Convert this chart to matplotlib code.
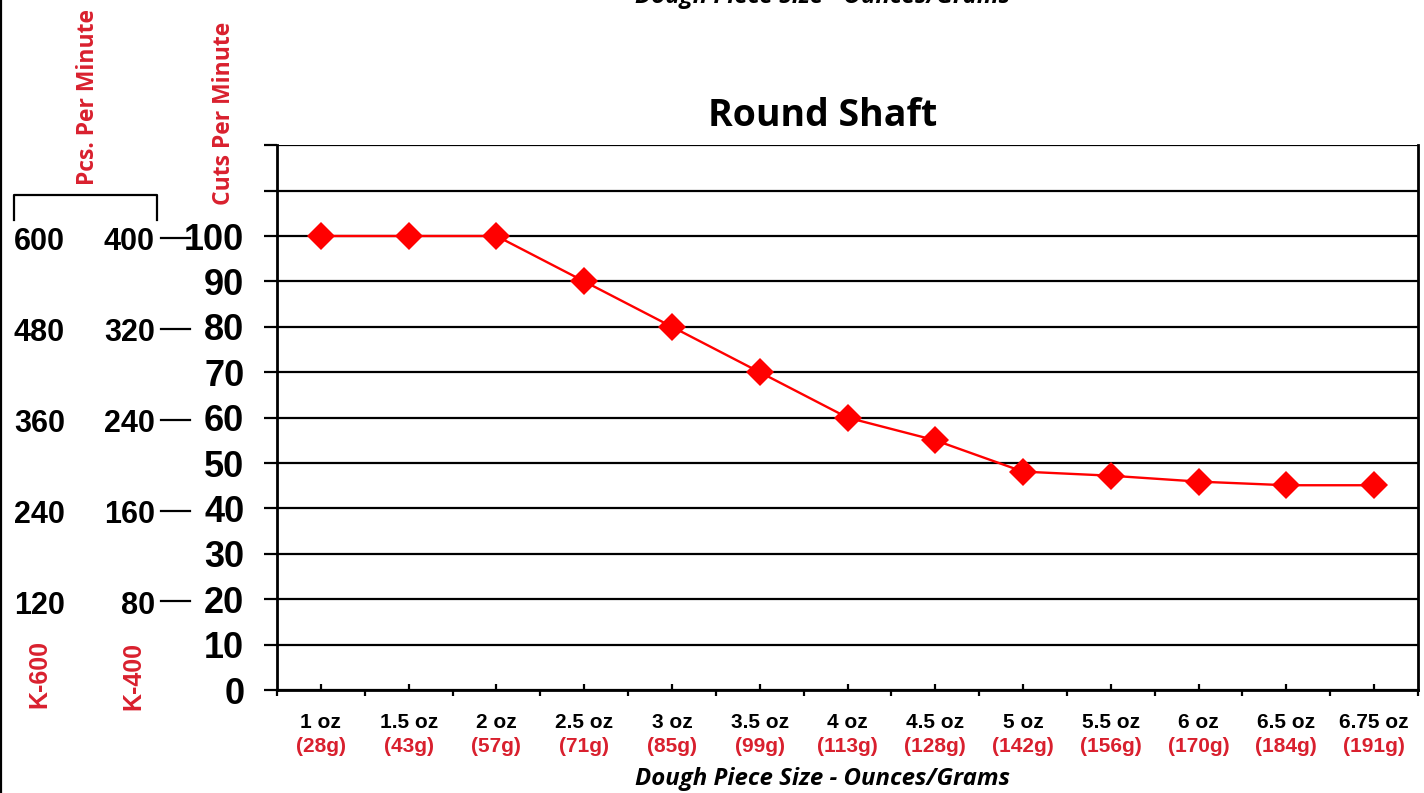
import matplotlib
matplotlib.use("Agg")
import matplotlib.pyplot as plt
from matplotlib.lines import Line2D
from matplotlib.transforms import blended_transform_factory
from matplotlib.ticker import FixedLocator

# ---- data ----
oz_labels = ["1 oz", "1.5 oz", "2 oz", "2.5 oz", "3 oz", "3.5 oz", "4 oz",
             "4.5 oz", "5 oz", "5.5 oz", "6 oz", "6.5 oz", "6.75 oz"]
gram_labels = ["(28g)", "(43g)", "(57g)", "(71g)", "(85g)", "(99g)", "(113g)",
               "(128g)", "(142g)", "(156g)", "(170g)", "(184g)", "(191g)"]
cuts_per_minute = [100, 100, 100, 90, 80, 70, 60, 55, 48.1, 47.2, 45.9, 45.1, 45.1]

y_ticks = [0, 10, 20, 30, 40, 50, 60, 70, 80, 90, 100, 110, 120]
y_ticklabels = ["0", "10", "20", "30", "40", "50", "60", "70", "80", "90", "100", "", ""]
side_levels = [100, 80, 60, 40, 20]
k600_pcs = ["600", "480", "360", "240", "120"]
k400_pcs = ["400", "320", "240", "160", "80"]

RED_TXT = "#d9202e"
W, H = 1424, 793

fig = plt.figure(figsize=(W / 100, H / 100), dpi=100)
ax = fig.add_axes([277 / W, 1 - 690 / H, (1418 - 277) / W, (690 - 145.2) / H])

x = list(range(len(oz_labels)))
ax.plot(x, cuts_per_minute, color="#ff0000", lw=1.7, marker="D", ms=14,
        markeredgewidth=0, zorder=5, clip_on=False)

ax.set_xlim(-0.5, len(oz_labels) - 0.5)
ax.set_ylim(0, 120)

# grid
for yv in y_ticks:
    ax.axhline(yv, color="black", lw=1.6, zorder=1)

ax.spines["top"].set_visible(False)
for s in ["left", "right", "bottom"]:
    ax.spines[s].set_linewidth(2.0)
    ax.spines[s].set_color("black")

ax.yaxis.set_major_locator(FixedLocator(y_ticks))
ax.set_yticklabels(y_ticklabels, fontsize=26, fontweight="bold", family="Liberation Sans")
ax.tick_params(axis="y", direction="out", length=9.5, width=1.6, pad=14)

ax.xaxis.set_major_locator(FixedLocator(x))
ax.xaxis.set_minor_locator(FixedLocator([i - 0.5 for i in range(len(x) + 1)]))
ax.set_xticklabels([])
ax.tick_params(axis="x", which="major", direction="in", length=4.5, width=1.6)
ax.tick_params(axis="x", which="minor", direction="out", length=4.5, width=1.6)

tx = blended_transform_factory(ax.transData, ax.transAxes)
for i in x:
    ax.text(i, -33 / 544.8, oz_labels[i], transform=tx, ha="center", va="center",
            fontsize=15, fontweight="bold", family="Liberation Sans", color="black")
    ax.text(i, -57 / 544.8, gram_labels[i], transform=tx, ha="center", va="center",
            fontsize=15, fontweight="bold", family="Liberation Sans", color=RED_TXT)

# title
fig.text(823 / W, 1 - 116 / H, "Round Shaft", ha="center", va="center",
         fontsize=27, fontweight="bold", family="Open Sans")

# x label (bottom) and cut-off copy at top
fig.text(822 / W, 1 - 779 / H, "Dough Piece Size - Ounces/Grams", ha="center", va="center",
         fontsize=17.3, fontweight="bold", style="italic", family="Open Sans")
fig.text(822 / W, 1 - 3 / H, "Dough Piece Size - Ounces/Grams", ha="center", va="baseline",
         fontsize=17.3, fontweight="bold", style="italic", family="Open Sans")

# side scales
st = blended_transform_factory(fig.transFigure, ax.transData)
for lv, a, b in zip(side_levels, k600_pcs, k400_pcs):
    fig.text(14 / W, lv - 1.4, a, transform=st, ha="left", va="center",
             fontsize=22, fontweight="bold", family="Liberation Sans")
    fig.text(155 / W, lv - 1.4, b, transform=st, ha="right", va="center",
             fontsize=22, fontweight="bold", family="Liberation Sans")
    fig.add_artist(Line2D([161 / W, 190 / W], [lv - 0.5, lv - 0.5], transform=st,
                          color="black", lw=1.6))

# bracket
fig.add_artist(Line2D([14 / W, 14 / W, 157 / W, 157 / W],
                      [1 - 220 / H, 1 - 195 / H, 1 - 195 / H, 1 - 220 / H],
                      transform=fig.transFigure, color="black", lw=1.6))

# rotated red labels
fig.text(88 / W, 1 - 97 / H, "Pcs. Per Minute", rotation=90, ha="center", va="center",
         fontsize=16.5, fontweight="bold", family="Open Sans", color=RED_TXT)
fig.text(224 / W, 1 - 113 / H, "Cuts Per Minute", rotation=90, ha="center", va="center",
         fontsize=16.5, fontweight="bold", family="Open Sans", color=RED_TXT)
fig.text(39 / W, 1 - 674 / H, "K-600", rotation=90, ha="center", va="center",
         fontsize=18, fontweight="bold", family="Liberation Sans", color=RED_TXT)
fig.text(133 / W, 1 - 676 / H, "K-400", rotation=90, ha="center", va="center",
         fontsize=18, fontweight="bold", family="Liberation Sans", color=RED_TXT)

# left frame edge
fig.add_artist(Line2D([1 / W, 1 / W], [0, 1], transform=fig.transFigure, color="black", lw=1.6))

fig.savefig("out.png", dpi=100)
